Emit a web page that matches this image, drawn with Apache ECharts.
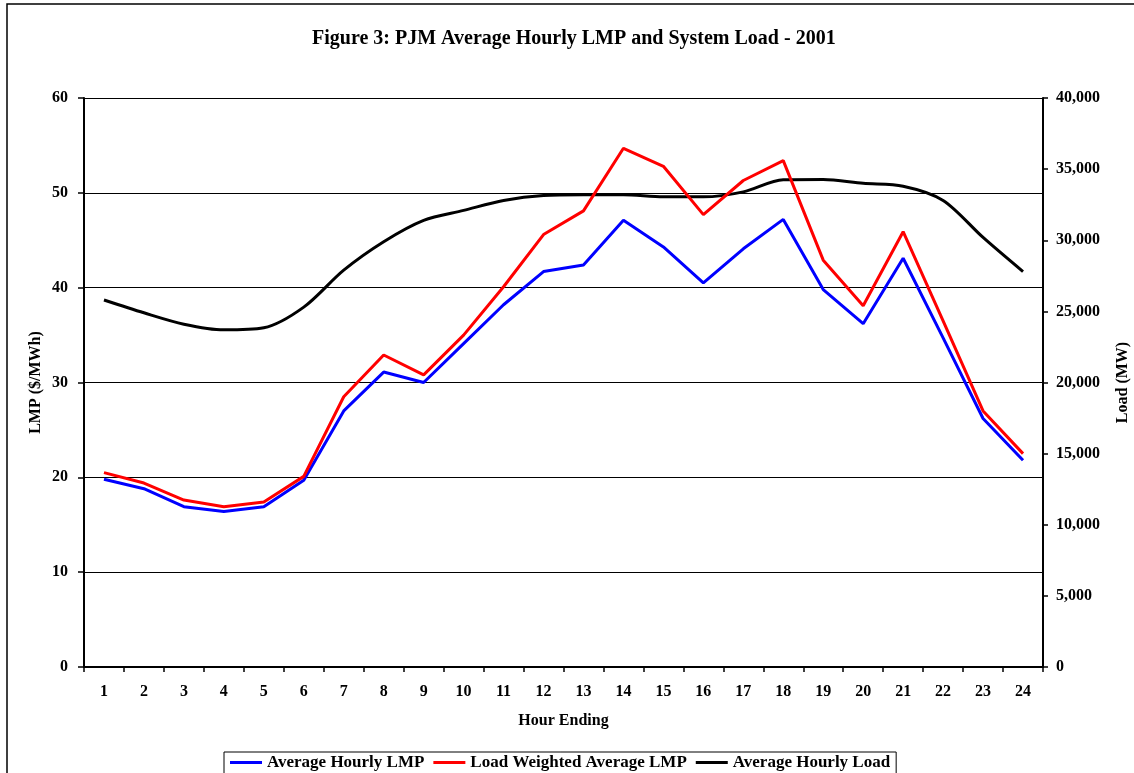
<!DOCTYPE html>
<html>
<head>
<meta charset="utf-8">
<script src="https://cdn.jsdelivr.net/npm/echarts@6/dist/echarts.min.js"></script>
<style>
  html, body { margin: 0; padding: 0; background: #fff; }
  #chart { width: 1134px; height: 773px; }
</style>
</head>
<body>
<div id="chart"></div>
<script>
// hours 1..24
var hours = ["1","2","3","4","5","6","7","8","9","10","11","12","13","14","15","16","17","18","19","20","21","22","23","24"];

// $/MWh
var avgLmp = [19.8, 18.8, 16.9, 16.4, 16.9, 19.7, 27.0, 31.1, 30.0, 34.1, 38.2, 41.7, 42.4, 47.1, 44.3, 40.5, 44.1, 47.2, 39.8, 36.2, 43.1, 34.7, 26.2, 21.8];
var loadWeightedLmp = [20.5, 19.4, 17.6, 16.9, 17.4, 20.1, 28.5, 32.9, 30.8, 35.0, 40.1, 45.6, 48.1, 54.7, 52.8, 47.7, 51.3, 53.4, 42.9, 38.1, 45.9, 36.5, 27.0, 22.5];

// MW
var avgLoad = [25800, 24900, 24100, 23700, 23850, 25300, 27900, 29900, 31400, 32100, 32800, 33150, 33200, 33200, 33050, 33050, 33400, 34250, 34270, 34000, 33800, 32800, 30200, 27800];

var lmpTicks = [0, 60, 10];
var loadTicks = [0, 40000, 5000];

var font = "Liberation Serif";

var chartDom = document.getElementById("chart");
var myChart = echarts.init(chartDom);

var option = {
  backgroundColor: "#fff",
  animation: false,
  textStyle: { fontFamily: font, fontWeight: "bold", color: "#000" },
  graphic: [
    {
      type: "rect",
      shape: { x: 7, y: 4, width: 1150, height: 800 },
      style: { fill: "none", stroke: "#000", lineWidth: 1.5 },
      silent: true
    },
    {
      type: "text",
      left: 312,
      top: 29,
      style: {
        text: "Figure 3: PJM Average Hourly LMP and System Load - 2001",
        font: "bold 20px " + font,
        fill: "#000"
      }
    }
  ],
  grid: { left: 84, right: 91, top: 98, bottom: 106, containLabel: false, outerBoundsMode: "none" },
  legend: {
    top: 752,
    left: 224,
    itemWidth: 32,
    itemHeight: 3,
    itemGap: 9,
    padding: [2, 6, 4, 6],
    borderColor: "#000",
    borderWidth: 1,
    borderRadius: 0,
    icon: "rect",
    textStyle: { fontFamily: font, fontWeight: "bold", fontSize: 17, color: "#000" },
    data: ["Average Hourly LMP", "Load Weighted Average LMP", "Average Hourly Load"]
  },
  xAxis: {
    type: "category",
    data: hours,
    boundaryGap: true,
    name: "Hour Ending",
    nameLocation: "middle",
    nameGap: 46,
    nameTextStyle: { fontFamily: font, fontWeight: "bold", fontSize: 16, color: "#000" },
    axisLine: { lineStyle: { color: "#000", width: 2 } },
    axisTick: { show: true, length: 5, alignWithLabel: false, lineStyle: { color: "#000", width: 1.5 } },
    axisLabel: { fontFamily: font, fontWeight: "bold", fontSize: 16, color: "#000", margin: 17 }
  },
  yAxis: [
    {
      type: "value",
      min: lmpTicks[0],
      max: lmpTicks[1],
      interval: lmpTicks[2],
      name: "LMP ($/MWh)",
      nameLocation: "middle",
      nameGap: 40,
      nameMoveOverlap: false,
      nameRotate: 90,
      nameTextStyle: { fontFamily: font, fontWeight: "bold", fontSize: 16, color: "#000" },
      axisLine: { show: true, lineStyle: { color: "#000", width: 2 } },
      axisTick: { show: true, length: 6, lineStyle: { color: "#000", width: 1.5 } },
      axisLabel: { fontFamily: font, fontWeight: "bold", fontSize: 16, color: "#000", margin: 16 },
      splitLine: { show: true, lineStyle: { color: "#000", width: 1.2 } }
    },
    {
      type: "value",
      min: loadTicks[0],
      max: loadTicks[1],
      interval: loadTicks[2],
      position: "right",
      name: "Load (MW)",
      nameLocation: "middle",
      nameGap: 72,
      nameRotate: 90,
      nameTextStyle: { fontFamily: font, fontWeight: "bold", fontSize: 16, color: "#000" },
      axisLine: { show: true, lineStyle: { color: "#000", width: 2 } },
      axisTick: { show: true, length: 5, lineStyle: { color: "#000", width: 1.5 } },
      axisLabel: {
        fontFamily: font, fontWeight: "bold", fontSize: 16, color: "#000", margin: 13,
        formatter: function (v) { return v.toLocaleString("en-US"); }
      },
      splitLine: { show: false }
    }
  ],
  series: [
    {
      name: "Average Hourly LMP",
      type: "line",
      yAxisIndex: 0,
      data: avgLmp,
      symbol: "none",
      color: "#0000ff",
      lineStyle: { color: "#0000ff", width: 3 },
      z: 3
    },
    {
      name: "Load Weighted Average LMP",
      type: "line",
      yAxisIndex: 0,
      data: loadWeightedLmp,
      symbol: "none",
      color: "#ff0000",
      lineStyle: { color: "#ff0000", width: 3 },
      z: 4
    },
    {
      name: "Average Hourly Load",
      type: "line",
      yAxisIndex: 1,
      data: avgLoad,
      symbol: "none",
      smooth: 0.3,
      color: "#000",
      lineStyle: { color: "#000", width: 3 },
      z: 2
    }
  ]
};

option && myChart.setOption(option);
</script>
</body>
</html>
